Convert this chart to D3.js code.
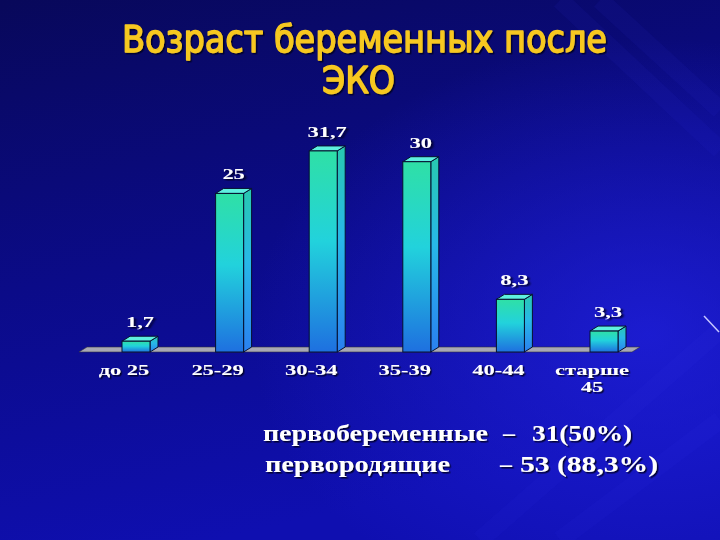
<!DOCTYPE html>
<html><head><meta charset="utf-8">
<script src="https://cdn.jsdelivr.net/npm/d3@7"></script>
<style>html,body{margin:0;padding:0;background:#0a0a6a;}svg{display:block;}</style>
</head><body>
<script>
const categories = ["до 25", "25-29", "30-34", "35-39", "40-44", "старше 45"];
const values = [1.7, 25, 31.7, 30, 8.3, 3.3];
const valueLabels = ["1,7", "25", "31,7", "30", "8,3", "3,3"];
const titleLines = ["Возраст беременных после", "ЭКО"];
const noteNames = ["первобеременные", "первородящие"];
const noteValues = ["31(50%)", "53 (88,3%)"];

const W = 720, H = 540;
const svg = d3.select("body").append("svg").attr("width", W).attr("height", H);
const defs = svg.append("defs");

// background
const bg = defs.append("linearGradient").attr("id","bg").attr("x1",0).attr("y1",0).attr("x2",0.3).attr("y2",1);
bg.append("stop").attr("offset",0).attr("stop-color","#08085a");
bg.append("stop").attr("offset",0.5).attr("stop-color","#0b0b88");
bg.append("stop").attr("offset",1).attr("stop-color","#0f0fb0");
const rg = defs.append("radialGradient").attr("id","glow").attr("cx",0.9).attr("cy",0.62).attr("r",0.55);
rg.append("stop").attr("offset",0).attr("stop-color","#2222e4").attr("stop-opacity",0.7);
rg.append("stop").attr("offset",1).attr("stop-color","#2222e4").attr("stop-opacity",0);
svg.append("rect").attr("width",W).attr("height",H).attr("fill","url(#bg)");
svg.append("rect").attr("width",W).attr("height",H).attr("fill","url(#glow)");
// faint streaks
const streaks = [[560,0,720,150],[600,0,720,110],[480,540,720,330],[560,540,720,420]];
svg.selectAll("line.streak").data(streaks).join("line").attr("class","streak")
  .attr("x1",d=>d[0]).attr("y1",d=>d[1]).attr("x2",d=>d[2]).attr("y2",d=>d[3])
  .attr("stroke","#3a3af0").attr("stroke-width",18).attr("stroke-opacity",0.07);
svg.append("line").attr("x1",704).attr("y1",316).attr("x2",719).attr("y2",332)
  .attr("stroke","#c8c8ff").attr("stroke-width",1.5);

// shadow filter
const f = defs.append("filter").attr("id","sh").attr("x","-10%").attr("y","-20%").attr("width","130%").attr("height","150%");
f.append("feDropShadow").attr("dx",1.5).attr("dy",1.5).attr("stdDeviation",0.6).attr("flood-color","#000020").attr("flood-opacity",0.9);

// bar gradients
const gFront = defs.append("linearGradient").attr("id","front").attr("x1",0).attr("y1",0).attr("x2",0).attr("y2",1);
gFront.append("stop").attr("offset",0).attr("stop-color","#2fe0a6");
gFront.append("stop").attr("offset",0.45).attr("stop-color","#22d2dc");
gFront.append("stop").attr("offset",1).attr("stop-color","#1e70e0");
const gSide = defs.append("linearGradient").attr("id","side").attr("x1",0).attr("y1",0).attr("x2",0).attr("y2",1);
gSide.append("stop").attr("offset",0).attr("stop-color","#28c8b0");
gSide.append("stop").attr("offset",0.45).attr("stop-color","#28b8e8");
gSide.append("stop").attr("offset",1).attr("stop-color","#2a80f0");

// title
const title = svg.append("g").attr("fill","#f7c820").attr("font-family","'DejaVu Sans', sans-serif")
  .attr("font-size",37).attr("filter","url(#sh)")
  .attr("stroke","#f7c820").attr("stroke-width",1.4).attr("stroke-linejoin","round");
title.append("text").attr("x",122).attr("y",52).attr("textLength",485).attr("lengthAdjust","spacingAndGlyphs").text(titleLines[0]);
title.append("text").attr("x",322).attr("y",93).attr("textLength",73).attr("lengthAdjust","spacingAndGlyphs").text(titleLines[1]);

// scales
const x = d3.scalePoint().domain(categories).range([136, 604]);
const y = d3.scaleLinear().domain([0, 35]).range([352, 130]);
const bw = 28, dx = 8, dy = 5;

// floor
const fl = [79, 640];
svg.append("path")
  .attr("d", `M${fl[0]},${y(0)} L${fl[1]-dx},${y(0)} L${fl[1]},${y(0)-dy} L${fl[0]+dx},${y(0)-dy} Z`)
  .attr("fill","#a8a8b4").attr("stroke","#303040").attr("stroke-width",0.6);

const bars = svg.append("g").selectAll("g").data(values).join("g");
bars.each(function(v,i){
  const g = d3.select(this);
  const x0 = x(categories[i]) - bw/2, x1 = x0 + bw, yt = y(v), yb = y(0);
  g.append("path").attr("d",`M${x1},${yt} L${x1+dx},${yt-dy} L${x1+dx},${yb-dy} L${x1},${yb} Z`)
    .attr("fill","url(#side)").attr("stroke","#061030").attr("stroke-width",1);
  g.append("path").attr("d",`M${x0},${yt} L${x0+dx},${yt-dy} L${x1+dx},${yt-dy} L${x1},${yt} Z`)
    .attr("fill","#5ef0e0").attr("stroke","#061030").attr("stroke-width",1);
  g.append("rect").attr("x",x0).attr("y",yt).attr("width",bw).attr("height",yb-yt)
    .attr("fill","url(#front)").attr("stroke","#061030").attr("stroke-width",1);
});

// value labels
const sx = 1.45;
svg.append("g").selectAll("text").data(values).join("text")
  .attr("transform",(v,i)=>`translate(${x(categories[i])+4},${y(v)-14}) scale(${sx},1)`)
  .attr("text-anchor","middle").attr("fill","#ffffff").attr("font-family","'Liberation Serif', serif")
  .attr("font-weight","bold").attr("font-size",15.5).attr("filter","url(#sh)")
  .text((v,i)=>valueLabels[i]);

// category labels
const cl = svg.append("g").attr("fill","#ffffff").attr("font-family","'Liberation Serif', serif")
  .attr("font-weight","bold").attr("font-size",15.5).attr("text-anchor","middle").attr("filter","url(#sh)");
categories.forEach(c=>{
  const parts = c.startsWith("старше") ? c.split(" ") : [c];
  parts.forEach((p,j)=>{
    cl.append("text").attr("transform",`translate(${x(c)-12},${375 + j*17}) scale(${sx},1)`).text(p);
  });
});

// notes
const notes = svg.append("g").attr("fill","#ffffff").attr("font-family","'Liberation Serif', serif")
  .attr("font-weight","bold").attr("font-size",24).attr("filter","url(#sh)");
const noteLayout = [
  {nx:263, nl:225, dashx:503, vx:532, vl:100, yy:441},
  {nx:265, nl:185, dashx:500, vx:520, vl:138, yy:472}
];
noteLayout.forEach((L,i)=>{
  notes.append("text").attr("x",L.nx).attr("y",L.yy).attr("textLength",L.nl).attr("lengthAdjust","spacingAndGlyphs").text(noteNames[i]);
  notes.append("text").attr("x",L.dashx).attr("y",L.yy).text("–");
  notes.append("text").attr("x",L.vx).attr("y",L.yy).attr("textLength",L.vl).attr("lengthAdjust","spacingAndGlyphs").text(noteValues[i]);
});
</script>
</body></html>
